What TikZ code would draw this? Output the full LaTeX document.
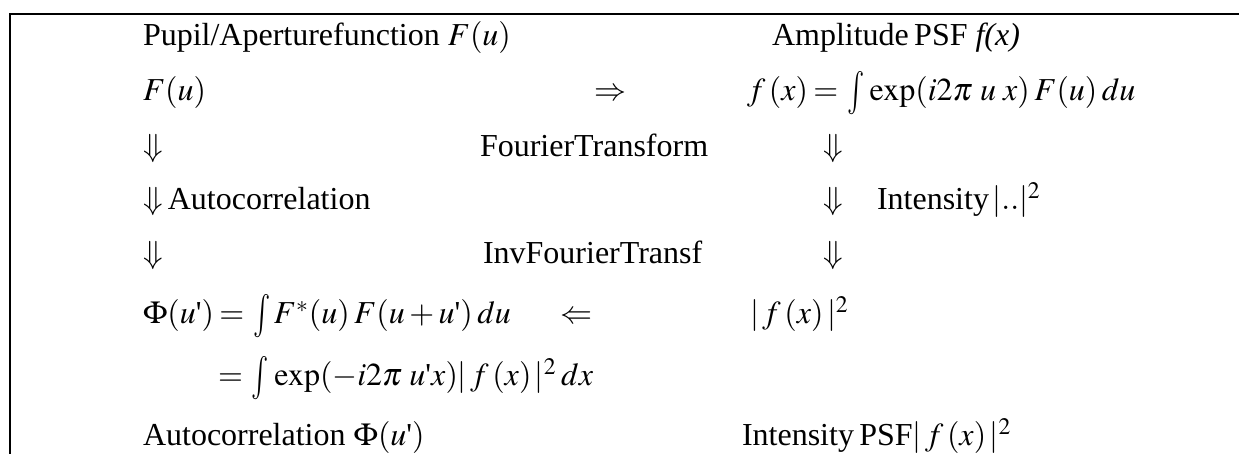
\documentclass[tikz,border=0pt]{standalone}
\usepackage{graphicx}
\usepackage{mathptmx}
\usepackage[no-math]{fontspec}
\setmainfont{Liberation Serif}
\newcommand{\sq}{\textnormal{\textquotesingle}}
\newcommand{\Int}{\mathop{\vcenter{\hbox{\scalebox{0.9}[1.35]{$\int$}}}}\nolimits}
\newcommand{\eqs}{\mkern3mu{=}\mkern3mu}
\begin{document}
\begin{tikzpicture}[x=0.5pt,y=-0.5pt,
  txt/.style={anchor=base west,inner sep=0pt,outer sep=0pt,font=\fontsize{16}{19}\selectfont},
  frame/.style={line width=1pt}]
\useasboundingbox (0,0) rectangle (1239,454);
\coordinate (fb) at (10,454);
\coordinate (fc) at (10,14);
\coordinate (fr) at (1239,14);
\draw[frame] (fb) -- (fc) -- (fr);
% row 1
\node[txt] (t1) at (143,46) {Pupil/Aperturefunction $F(u)$};
\node[txt] (t2) at (772,46) {Amplitude\,PSF \textit{f(x)}};
% row 2
\node[txt] (r2a) at (143,101) {$F(u)$};
\node[txt] (r2b) at (594,101) {$\Rightarrow$};
\node[txt] (r2c) at (747,101) {$f\,(x)\eqs\Int\mkern1mu\exp(i2\pi\;u\;x)\:F(u)\:du$};
% row 3
\node[txt] (r3a) at (143,157) {$\Downarrow$};
\node[txt] (r3b) at (480,157) {FourierTransform};
\node[txt] (r3c) at (823,157) {$\Downarrow$};
% row 4
\node[txt] (r4a) at (143,210) {$\Downarrow$\,Autocorrelation};
\node[txt] (r4c) at (823,210) {$\Downarrow$};
\node[txt] (r4d) at (877,210) {Intensity$\,|..|^2$};
% row 5
\node[txt] (r5a) at (143,264) {$\Downarrow$};
\node[txt] (r5b) at (483,264) {InvFourierTransf};
\node[txt] (r5c) at (823,264) {$\Downarrow$};
% row 6
\node[txt] (r6a) at (143,324) {$\Phi(u\sq)\eqs\Int F^{*}(u)\:F(u+u\sq)\:du$};
\node[txt] (r6b) at (560,324) {$\Leftarrow$};
\node[txt] (r6c) at (750,324) {$|\,f\,(x)\,|^2$};
% row 7
\node[txt] (r7) at (218,386) {${=}\mkern3mu\Int\mkern1mu\exp(-i2\pi\;u\sq x)|\,f\,(x)\,|^2\:dx$};
% row 8
\node[txt] (r8a) at (143,446) {Autocorrelation $\Phi(u\sq)$};
\node[txt] (r8b) at (742,446) {Intensity\,PSF$|\,f\,(x)\,|^2$};
\end{tikzpicture}
\end{document}
